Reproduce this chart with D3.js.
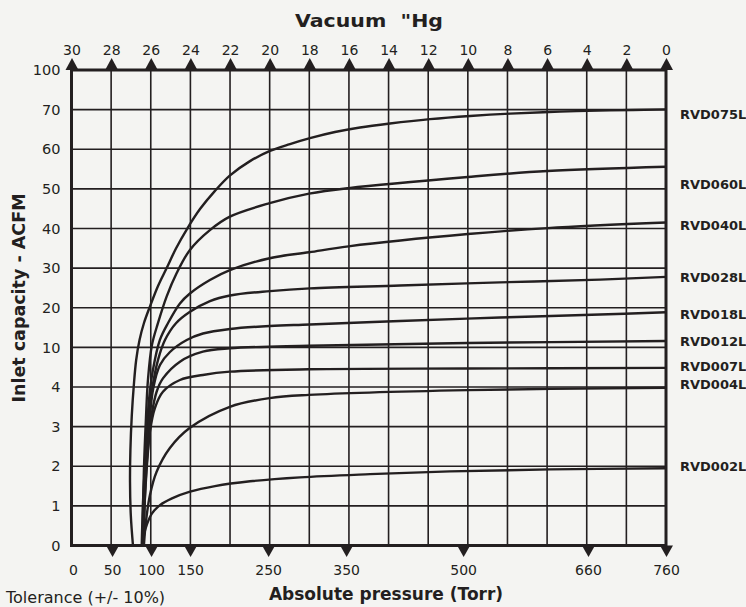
<!DOCTYPE html>
<html>
<head>
<meta charset="utf-8">
<script src="https://cdn.jsdelivr.net/npm/d3@7"></script>
<style>
  body { margin: 0; background: #f4f4f2; }
  text { font-family: "DejaVu Sans", "Liberation Sans", Arial, sans-serif; fill: #231f20; }
</style>
</head>
<body>
<div id="graphic"></div>
<script>
// y axis is not linear: each labelled level gets the same spacing
const yLevels = [0, 1, 2, 3, 4, 10, 20, 30, 40, 50, 60, 70, 100];
const vacTicks = [30, 28, 26, 24, 22, 20, 18, 16, 14, 12, 10, 8, 6, 4, 2, 0];
const torrTicks = [0, 50, 100, 150, 250, 350, 500, 660, 760];

// curves: [absolute pressure Torr, inlet capacity ACFM]
const rvd075L = [[76.8,0],[74,0.77],[73,1.6],[73.5,2.41],[75.3,3.29],[77.9,4.3],[80.9,8.09],[85.2,11.86],[90.9,16.15],[99.3,20.7],[108.9,25.5],[120,30.03],[131.9,34.95],[146,39.87],[162.7,44.9],[181.9,49.5],[201.2,53.4],[226.8,57],[252.4,59.6],[278,61.3],[303.6,62.8],[335.7,64.35],[367.8,65.5],[406.2,66.5],[457.5,67.6],[508.8,68.4],[560.1,69],[624.1,69.5],[688.2,69.8],[760,70.2]];
const rvd060L = [[88.9,0],[90.8,1.9],[93.4,3.2],[96,5.1],[101.1,10.6],[108.8,16.1],[119.9,22.8],[132.7,28.7],[149.8,34.6],[175.4,39.6],[201,43],[252,46.4],[302.5,48.8],[353,50.2],[506,53],[608,54.5],[760,55.6]];
const rvd040L = [[90.2,0],[93.4,2.41],[97.3,3.67],[102.4,6.6],[111.3,11.9],[121.6,16.1],[137,21.1],[149.8,23.6],[175.4,27],[201,29.5],[252,32.5],[302.5,34],[353,35.5],[506,38.6],[608,40.1],[760,41.5]];
const rvd028L = [[89,0],[92.2,1.65],[96,2.91],[101.2,3.92],[108.9,8.1],[117.8,11.86],[131.9,16.1],[149.9,19],[175.5,21.7],[201.2,23.1],[252.4,24.2],[303.6,24.9],[419.1,25.6],[547.2,26.4],[675.4,27.1],[760,27.8]];
const rvd018L = [[88,0],[90.9,1.6],[96.4,2.86],[102.8,3.97],[111.4,7.33],[124.2,9.3],[145.7,11.86],[166.5,13.5],[201.2,14.64],[252.4,15.4],[303.6,15.77],[419.1,16.66],[547.2,17.54],[675.4,18.3],[760,18.85]];
const rvd012L = [[89.6,0],[92.1,1.2],[96.4,2.46],[100.7,3.29],[107.1,3.88],[115.2,5.3],[137,7.84],[166.4,9.35],[201,9.86],[302.2,10.4],[505.8,11.1],[760,11.6]];
const rvd007L = [[89.6,0],[94.3,2.03],[98.5,2.87],[104.9,3.47],[115.2,3.88],[137,5.06],[166.4,5.82],[201,6.32],[302.2,6.68],[505.8,6.8],[760,6.9]];
const rvd004L = [[90.8,0],[93.4,0.6],[98.5,1.27],[107.1,1.86],[124.1,2.46],[149.8,2.97],[201,3.5],[252,3.72],[302.2,3.8],[505.8,3.92],[760,3.98]];
const rvd002L = [[89.6,0],[90.9,0.27],[94.8,0.54],[101.2,0.81],[111.4,1.02],[126.8,1.19],[149.9,1.36],[181.9,1.5],[226.8,1.62],[290.9,1.72],[380.6,1.8],[483.1,1.87],[611.3,1.92],[760,1.95]];

const models = ["RVD075L", "RVD060L", "RVD040L", "RVD028L", "RVD018L", "RVD012L", "RVD007L", "RVD004L", "RVD002L"];
const curves = [rvd075L, rvd060L, rvd040L, rvd028L, rvd018L, rvd012L, rvd007L, rvd004L, rvd002L];
// level (ACFM) at which each model name is written on the right
const labelLevels = [68.9, 51.1, 40.9, 27.8, 18.3, 11.5, 7.1, 4.4, 2.0];

const margin = { top: 70, right: 80, bottom: 61.5, left: 71.5 };
const width = 746 - margin.left - margin.right;
const height = 607 - margin.top - margin.bottom;
const ink = "#231f20";

const svg = d3.select("#graphic")
  .append("svg")
  .attr("width", 746)
  .attr("height", 607);

const g = svg.append("g")
  .attr("transform", `translate(${margin.left},${margin.top})`);

// x: vacuum "Hg (top) and absolute pressure Torr (bottom) share the same span
const xVac = d3.scaleLinear().domain([30, 0]).range([0, width]);
const x = d3.scaleLinear().domain([760 - 25.4 * 30, 760]).range([0, width]);

const y = d3.scaleLinear()
  .domain(yLevels)
  .range(yLevels.map((d, i) => height - i * height / (yLevels.length - 1)));

// grid
g.append("g")
  .selectAll("line")
  .data(vacTicks)
  .join("line")
  .attr("x1", d => xVac(d)).attr("x2", d => xVac(d))
  .attr("y1", 0).attr("y2", height)
  .attr("stroke", ink).attr("stroke-width", 1.6);

g.append("g")
  .selectAll("line")
  .data(yLevels)
  .join("line")
  .attr("x1", 0).attr("x2", width)
  .attr("y1", d => y(d)).attr("y2", d => y(d))
  .attr("stroke", ink).attr("stroke-width", 1.6);

// curves
const line = d3.line()
  .x(d => x(d[0]))
  .y(d => y(d[1]))
  .curve(d3.curveCatmullRom.alpha(0.5));

g.append("g")
  .selectAll("path")
  .data(curves)
  .join("path")
  .attr("d", line)
  .attr("fill", "none")
  .attr("stroke", ink)
  .attr("stroke-width", 2.4);

// frame
g.append("rect")
  .attr("width", width).attr("height", height)
  .attr("fill", "none").attr("stroke", ink).attr("stroke-width", 3);

// top axis with triangle markers
const topAxis = g.append("g")
  .call(d3.axisTop(xVac).tickValues(vacTicks).tickSize(0).tickPadding(15));
topAxis.select(".domain").remove();
topAxis.attr("font-family", null).attr("font-size", null);
topAxis.selectAll(".tick").append("path")
  .attr("d", "M-6.5,0L6.5,0L0,-12Z").attr("fill", ink);
topAxis.selectAll("text").style("font-size", "14px").attr("fill", ink);

// bottom axis (Torr)
const bottomAxis = g.append("g")
  .attr("transform", `translate(0,${height})`)
  .call(d3.axisBottom(x).tickValues(torrTicks).tickSize(0).tickPadding(20));
bottomAxis.select(".domain").remove();
bottomAxis.attr("font-family", null).attr("font-size", null);
bottomAxis.selectAll(".tick").filter(d => d > 0).append("path")
  .attr("d", "M-6.5,0L6.5,0L0,11.5Z").attr("fill", ink);
bottomAxis.selectAll("text").style("font-size", "14px").attr("fill", ink);

// left axis
const leftAxis = g.append("g")
  .call(d3.axisLeft(y).tickValues(yLevels).tickSize(0).tickPadding(11));
leftAxis.select(".domain").remove();
leftAxis.attr("font-family", null).attr("font-size", null);
leftAxis.selectAll("text").style("font-size", "14.5px").attr("fill", ink);

// model names
g.append("g")
  .selectAll("text")
  .data(models)
  .join("text")
  .attr("x", width + 14)
  .attr("y", (d, i) => y(labelLevels[i]))
  .attr("dy", "0.36em")
  .style("font-size", "13px")
  .style("font-weight", "bold")
  .text(d => d);

// titles
svg.append("text")
  .attr("x", 369).attr("y", 27)
  .attr("text-anchor", "middle")
  .attr("textLength", 148)
  .attr("lengthAdjust", "spacingAndGlyphs")
  .style("font-size", "17px").style("font-weight", "bold")
  .style("white-space", "pre")
  .text('Vacuum  "Hg');

svg.append("text")
  .attr("x", 386).attr("y", 600)
  .attr("text-anchor", "middle")
  .style("font-size", "17px").style("font-weight", "bold")
  .text("Absolute pressure (Torr)");

svg.append("text")
  .attr("x", 6).attr("y", 603)
  .style("font-size", "16px")
  .text("Tolerance (+/- 10%)");

svg.append("text")
  .attr("transform", "translate(25,298) rotate(-90)")
  .attr("text-anchor", "middle")
  .style("font-size", "17.5px").style("font-weight", "bold")
  .text("Inlet capacity - ACFM");
</script>
</body>
</html>
